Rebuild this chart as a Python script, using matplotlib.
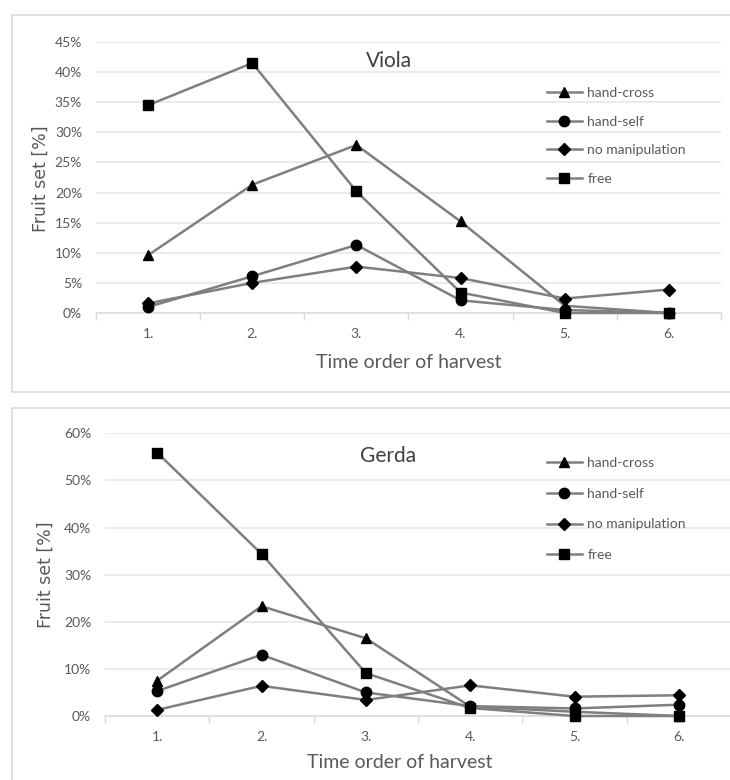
import matplotlib
matplotlib.use("Agg")
import matplotlib.pyplot as plt
from matplotlib.patches import Rectangle
from matplotlib.ticker import FuncFormatter, FixedLocator, NullFormatter

# ---------------- data ----------------
categories = ['1.', '2.', '3.', '4.', '5.', '6.']
series_names = ['hand-cross', 'hand-self', 'no manipulation', 'free']

viola_hand_cross = [9.6, 21.3, 27.9, 15.2, 1.2, 0.0]
viola_hand_self = [1.0, 6.1, 11.3, 2.1, 0.5, 0.0]
viola_no_manip = [1.6, 5.0, 7.7, 5.8, 2.4, 3.9]
viola_free = [34.5, 41.5, 20.2, 3.4, 0.0, 0.0]

gerda_hand_cross = [7.5, 23.3, 16.5, 2.0, 0.9, 0.0]
gerda_hand_self = [5.3, 13.0, 5.0, 2.1, 1.6, 2.4]
gerda_no_manip = [1.3, 6.4, 3.4, 6.5, 4.1, 4.4]
gerda_free = [55.9, 34.4, 9.1, 1.7, 0.0, 0.0]

viola_ticks = [0, 5, 10, 15, 20, 25, 30, 35, 40, 45]
gerda_ticks = [0, 10, 20, 30, 40, 50, 60]

markers = ['^', 'o', 'D', 's']
marker_sizes = [7, 7.5, 6.5, 7]

FONT = ['Lato', 'DejaVu Sans']
plt.rcParams['font.family'] = FONT

W, H = 730, 780
fig = plt.figure(figsize=(W / 100, H / 100), dpi=100)

def fx(px):
    return px / W

def fy(py):
    return 1 - py / H

# chart frames
box_col = '#d9d9d9'
fig.patches.append(Rectangle((fx(11.7), fy(391.5)), fx(740 - 11.7), fy(15) - fy(391.5),
                             transform=fig.transFigure, fill=False, ec=box_col, lw=1.2))
fig.patches.append(Rectangle((fx(11.7), fy(800)), fx(740 - 11.7), fy(408) - fy(800),
                             transform=fig.transFigure, fill=False, ec=box_col, lw=1.2))

def make_chart(rect, data, ticks, ymax, title, title_xy, legend_xy, legend_spacing,
               ylabel_xy, xlabel_xy):
    ax = fig.add_axes(rect)
    x = list(range(len(categories)))
    for vals, name, m, ms in zip(data, series_names, markers, marker_sizes):
        ax.plot(x, [v / 100 for v in vals], color='#7f7f7f', lw=1.8,
                marker=m, markersize=ms, markerfacecolor='black',
                markeredgecolor='black', label=name, zorder=3, clip_on=False)
    ax.set_xlim(-0.5, len(categories) - 0.5)
    ax.set_ylim(0, ymax / 100)
    ax.yaxis.set_major_locator(FixedLocator([t / 100 for t in ticks]))
    ax.yaxis.set_major_formatter(FuncFormatter(lambda v, p: f"{v * 100:.0f}%"))
    ax.set_xticks(x)
    ax.set_xticklabels(categories)
    ax.set_xticks([i + 0.5 for i in range(-1, len(categories))], minor=True)
    ax.xaxis.set_minor_formatter(NullFormatter())
    ax.tick_params(axis='x', which='major', length=0, pad=11, labelsize=10,
                   labelcolor='#595959')
    ax.tick_params(axis='x', which='minor', length=5, width=1, color='#d9d9d9',
                   direction='out')
    ax.tick_params(axis='y', length=0, pad=10, labelsize=10, labelcolor='#595959')
    ax.grid(axis='y', color='#e6e6e6', lw=1.1)
    ax.set_axisbelow(True)
    for s in ['top', 'right', 'left']:
        ax.spines[s].set_visible(False)
    ax.spines['bottom'].set_color('#d9d9d9')
    ax.spines['bottom'].set_linewidth(1.1)
    ax.patch.set_alpha(0)
    fig.text(fx(title_xy[0]), fy(title_xy[1]), title, ha='center', va='center',
             fontsize=15, color='#404040')
    fig.text(fx(ylabel_xy[0]), fy(ylabel_xy[1]), 'Fruit set [%]', ha='center',
             va='center', rotation=90, fontsize=12.5, color='#595959',
             family=['DejaVu Sans'])
    fig.text(fx(xlabel_xy[0]), fy(xlabel_xy[1]), 'Time order of harvest', ha='center',
             va='center', fontsize=14, color='#595959')
    ax.legend(loc='upper left', bbox_to_anchor=(fx(legend_xy[0]), fy(legend_xy[1])),
              bbox_transform=fig.transFigure, frameon=False, fontsize=10,
              handlelength=2.5, handletextpad=0.4, borderpad=0, borderaxespad=0,
              labelspacing=legend_spacing, labelcolor='#595959')
    return ax

make_chart([fx(96), fy(313), fx(721) - fx(96), fy(42) - fy(313)],
           [viola_hand_cross, viola_hand_self, viola_no_manip, viola_free],
           viola_ticks, 45, 'Viola', (389, 61), (547, 87), 1.2, (41, 179), (409, 362))

make_chart([fx(105), fy(716), fx(731) - fx(105), fy(433.3) - fy(716)],
           [gerda_hand_cross, gerda_hand_self, gerda_no_manip, gerda_free],
           gerda_ticks, 60, 'Gerda', (388, 456), (547, 457), 1.35, (46, 575), (400, 763))

fig.savefig('out.png', dpi=100)
